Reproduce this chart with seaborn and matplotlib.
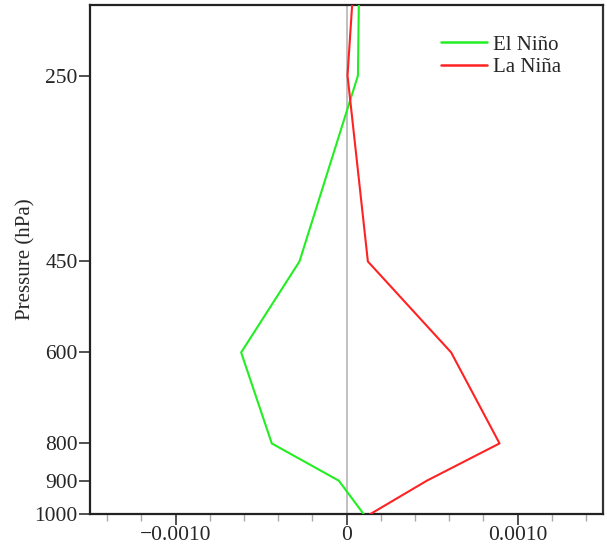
import matplotlib
matplotlib.use("Agg")
import matplotlib.pyplot as plt
import matplotlib.ticker as mticker
import seaborn as sns
import pandas as pd

# Data
pressure = [200, 250, 450, 600, 800, 900, 1000]
el_nino = [0.000072, 0.000067, -0.000275, -0.000616, -0.000437, -0.000045, 0.000100]
la_nina = [0.000033, 0.000006, 0.000125, 0.000612, 0.000895, 0.000470, 0.000140]
series_names = ["El Niño", "La Niña"]
y_ticks = [250, 450, 600, 800, 900, 1000]
x_ticks = [-0.001, 0.0, 0.001]
x_tick_labels = ["\u22120.0010", "0", "0.0010"]

df = pd.DataFrame({
    "pressure": pressure * 2,
    "value": el_nino + la_nina,
    "phase": [series_names[0]] * len(pressure) + [series_names[1]] * len(pressure),
})

sns.set_style("white")
plt.rcParams["font.family"] = ["Liberation Serif", "DejaVu Serif"]

fig = plt.figure(figsize=(6.07, 5.5), dpi=100)
ax = fig.add_axes([90 / 607, 36 / 550, (603 - 90) / 607, (514 - 5) / 550])

ax.axvline(0, color="#bbbbbb", lw=1.3, zorder=1)

sns.lineplot(data=df, x="value", y="pressure", hue="phase", orient="y",
             sort=False, estimator=None,
             palette={"El Niño": "#22ee22", "La Niña": "#ff2222"},
             lw=1.5, ax=ax, zorder=3)

ax.set_yscale("log")
ax.set_ylim(1000, 200)
ax.yaxis.set_major_locator(mticker.FixedLocator(y_ticks))
ax.yaxis.set_major_formatter(mticker.FixedFormatter([str(t) for t in y_ticks]))
ax.yaxis.set_minor_locator(mticker.NullLocator())

ax.set_xlim(-0.0015, 0.0015)
ax.set_xticks(x_ticks)
ax.set_xticklabels(x_tick_labels)
ax.xaxis.set_minor_locator(mticker.MultipleLocator(0.0002))

ax.tick_params(axis="both", which="major", direction="out", length=8, width=1.2,
               color="#333333", labelsize=15.5, pad=1, left=True, bottom=True)
ax.tick_params(axis="x", which="minor", direction="out", length=5, width=1.0,
               color="#aaaaaa", bottom=True)

ax.set_xlabel("")
ax.set_ylabel("Pressure (hPa)", fontsize=15, labelpad=-1)

for side in ["left", "bottom", "top"]:
    ax.spines[side].set_color("#222222")
    ax.spines[side].set_linewidth(1.6)
ax.spines["right"].set_color("#333333")
ax.spines["right"].set_linewidth(1.6)

leg = ax.legend(loc="upper left", bbox_to_anchor=(0.684, 0.941), frameon=False,
                fontsize=15, handlelength=2.2, handletextpad=0.3,
                labelspacing=0.15, borderaxespad=0, borderpad=0)
for line in leg.get_lines():
    line.set_linewidth(1.8)

fig.savefig("out.png", dpi=100)
